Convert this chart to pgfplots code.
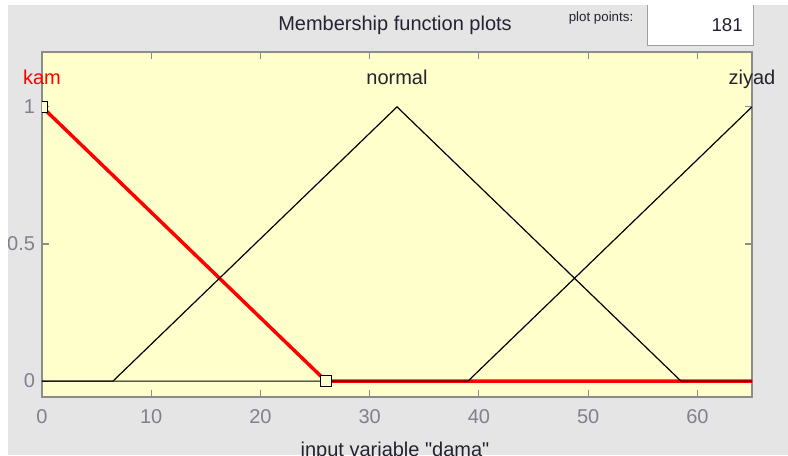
\documentclass[border=0pt]{standalone}
\usepackage{pgfplots}
\pgfplotsset{compat=1.18}
\usepackage{fontspec}
\setmainfont{Liberation Sans}
\definecolor{panel}{RGB}{229,229,229}
\definecolor{plotbg}{RGB}{255,255,204}
\definecolor{ticklab}{RGB}{128,128,142}
\definecolor{frame}{RGB}{140,140,140}
\definecolor{darktext}{RGB}{35,35,50}
\begin{document}
\begin{tikzpicture}[x=0.75pt,y=0.75pt]
\fill[panel] (0,0) rectangle (788,455);
\fill[white] (647,410) rectangle (753,455);
\draw[gray!75, line width=0.75pt] (647,455) -- (647,410) -- (753,410) -- (753,455);
\node[font=\fontsize{15}{18}\selectfont, text=darktext] at (395,430) {Membership function plots};
\node[font=\fontsize{10}{12}\selectfont, text=darktext] at (601,437) {plot points:};
\node[font=\fontsize{14}{16}\selectfont, text=darktext, anchor=east, inner sep=0pt] at (743,430) {181};
\begin{axis}[
  at={(31.5pt,43.5pt)}, anchor=south west,
  scale only axis, width=532.5pt, height=258.75pt,
  xmin=0, xmax=65, ymin=-0.058, ymax=1.2,
  axis background/.style={fill=plotbg},
  axis line style={frame, line width=0.8pt},
  tick style={frame, line width=0.8pt},
  major tick length=5pt,
  tick align=inside,
  xtick={0,10,...,60}, ytick={0,0.5,1},
  yticklabels={0,0.5,1},
  ticklabel style={font=\fontsize{15}{18}\selectfont, text=ticklab},
  /pgf/number format/assume math mode=true,
  yticklabel style={xshift=-1.75pt},
  xticklabel style={yshift=-5.5pt},
  clip mode=individual,
  clip marker paths=true,
]
\addplot[red, line width=2.6pt] coordinates {(0,1) (26,0) (65,0)};
\addplot[black, line width=0.9pt] coordinates {(0,0) (6.5,0) (32.5,1) (58.5,0) (65,0)};
\addplot[black, line width=0.9pt] coordinates {(0,0) (39,0) (65,1)};
\addplot[only marks, mark=square*, mark size=4pt, mark options={draw=black, fill=plotbg, line width=0.9pt}] coordinates {(0,1) (26,0)};
\node[anchor=base, text=red, font=\fontsize{15}{18}\selectfont] at (axis cs:0,1.08) {kam};
\node[anchor=base, text=darktext, font=\fontsize{15}{18}\selectfont] at (axis cs:32.5,1.08) {normal};
\node[anchor=base, text=darktext, font=\fontsize{15}{18}\selectfont] at (axis cs:65,1.08) {ziyad};
\end{axis}
\node[anchor=base, text=darktext, font=\fontsize{15}{18}\selectfont] at (395,-1) {input variable \textquotedbl dama\textquotedbl};
\fill[white] (0,0) rectangle (8,455);
\fill[white] (0,450) rectangle (788,455);
\pgfresetboundingbox
\useasboundingbox (0,0) rectangle (788,455);
\end{tikzpicture}
\end{document}
